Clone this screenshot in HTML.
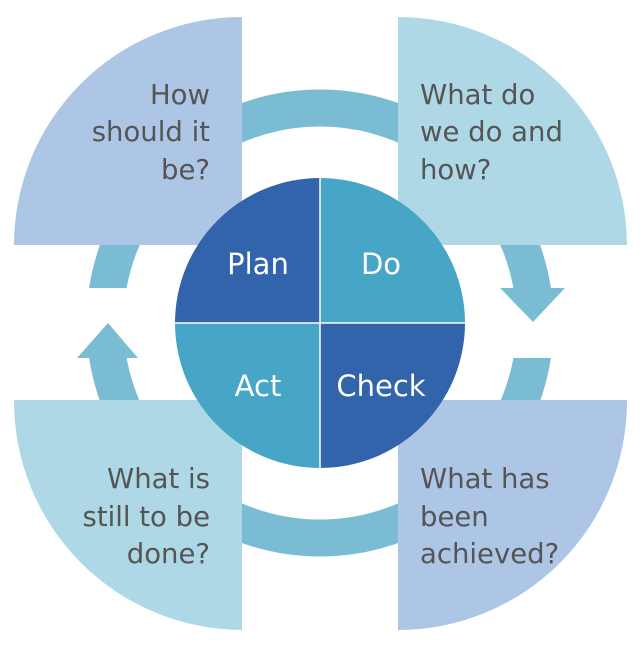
<!DOCTYPE html>
<html><head><meta charset="utf-8"><style>
html,body{margin:0;padding:0;background:#fff;}
svg{display:block;}
text{font-family:"DejaVu Sans","Liberation Sans",sans-serif;}
</style></head><body>
<svg width="640" height="645" viewBox="0 0 640 645" xmlns="http://www.w3.org/2000/svg">
<circle cx="320" cy="323" r="215" fill="none" stroke="#7bbcd5" stroke-width="37"/>
<rect x="60" y="288" width="100" height="70" fill="#fff"/>
<rect x="480" y="288" width="100" height="70" fill="#fff"/>
<polygon points="500,288 565,288 533,322" fill="#7bbcd5"/>
<polygon points="77,358 138,358 108,323" fill="#7bbcd5"/>
<path d="M242,245 L14,245 A228,228 0 0 1 242,17 Z" fill="#aec6e6"/>
<path d="M398,245 L398,17 A229,229 0 0 1 627,245 Z" fill="#aed8e6"/>
<path d="M242,400 L242,630 A229,229 0 0 1 14,400 Z" fill="#aed8e6"/>
<path d="M398,400 L627,400 A229,229 0 0 1 398,630 Z" fill="#aec6e6"/>
<path d="M320,323 L175,323 A145,145 0 0 1 320,178 Z" fill="#3164ab"/>
<path d="M320,323 L320,178 A145,145 0 0 1 465,323 Z" fill="#47a5c6"/>
<path d="M320,323 L175,323 A145,145 0 0 0 320,468 Z" fill="#47a5c6"/>
<path d="M320,323 L465,323 A145,145 0 0 1 320,468 Z" fill="#3164ab"/>
<line x1="320" y1="178" x2="320" y2="468" stroke="#fff" stroke-width="1.5"/>
<line x1="175" y1="323" x2="465" y2="323" stroke="#fff" stroke-width="1.5"/>
<g fill="#fff" font-size="29" text-anchor="middle">
<text x="258" y="274">Plan</text>
<text x="381" y="274">Do</text>
<text x="258" y="396">Act</text>
<text x="381" y="396">Check</text>
</g>
<g fill="#555" font-size="27.5">
<g text-anchor="end">
<text x="210" y="104">How</text>
<text x="210" y="141">should it</text>
<text x="210" y="179">be?</text>
<text x="210" y="488">What is</text>
<text x="210" y="526">still to be</text>
<text x="210" y="563">done?</text>
</g>
<text x="420" y="104">What do</text>
<text x="420" y="141">we do and</text>
<text x="420" y="179">how?</text>
<text x="420" y="488">What has</text>
<text x="420" y="526">been</text>
<text x="420" y="563">achieved?</text>
</g>
</svg>
</body></html>
